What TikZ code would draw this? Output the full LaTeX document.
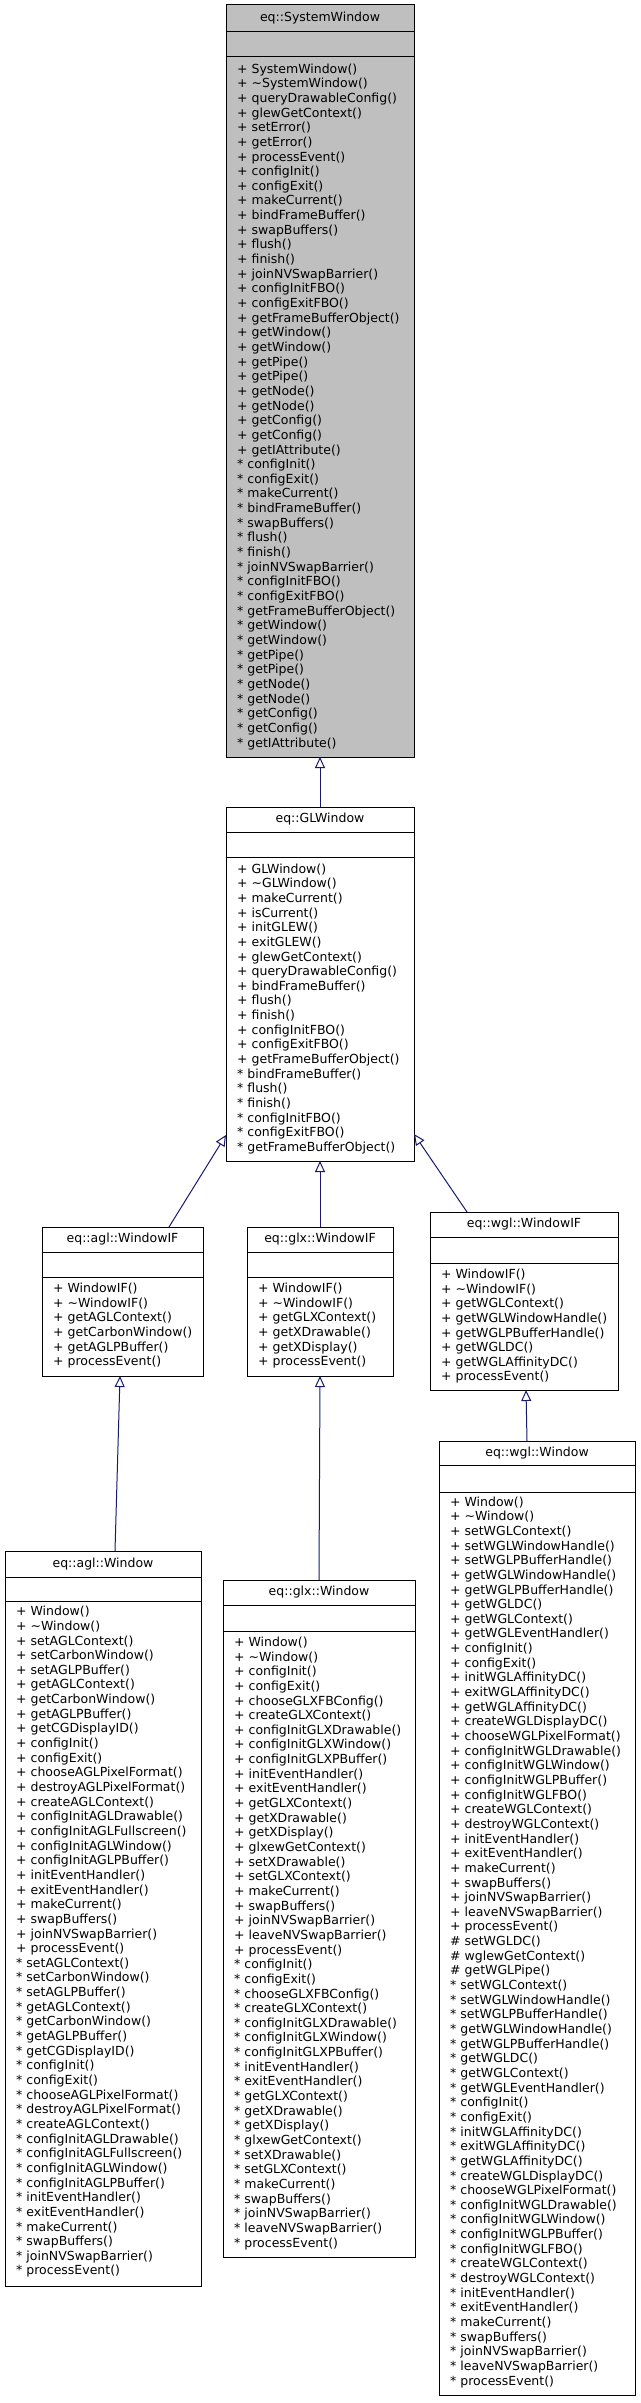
\documentclass[tikz,border=0pt]{standalone}
\usepackage{fontspec}
\setmainfont{DejaVu Sans}
\usetikzlibrary{arrows.meta}
\definecolor{navyedge}{HTML}{191970}
\definecolor{basegray}{HTML}{BFBFBF}
\newcommand\fs{\fontsize{12.5}{14.65}\selectfont}
\newcommand\tl{\textasciitilde}
\begin{document}
\begin{tikzpicture}[x=1pt,y=-1pt,
  cls/.style={draw=black, line width=1pt, fill=white, inner sep=0pt, outer sep=0pt, anchor=north west},
  ttl/.style={font=\fs, anchor=base, inner sep=0pt},
  mem/.style={font=\fs, align=left, anchor=north west, inner sep=0pt},
  sepline/.style={draw=black, line width=1pt},
  inh/.style={draw=navyedge, line width=1pt, -{Triangle[open, length=11pt, width=10pt]}}]
\fill[white] (0,0) rectangle (640,2403);
\useasboundingbox (0,0) rectangle (640,2403);

% ---------- eq::SystemWindow ----------
\node[cls, fill=basegray, minimum width=188pt, minimum height=752pt] (sw) at (226,5) {};
\draw[sepline] (226,31.5) -- (414,31.5);
\draw[sepline] (226,56.7) -- (414,56.7);
\node[ttl] (swt) at (320,21.2) {eq::SystemWindow};
\node[mem] (swm) at (237,63.4) {+ SystemWindow()\\+ \tl SystemWindow()\\+ queryDrawableConfig()\\+ glewGetContext()\\+ setError()\\+ getError()\\+ processEvent()\\+ configInit()\\+ configExit()\\+ makeCurrent()\\+ bindFrameBuffer()\\+ swapBuffers()\\+ flush()\\+ finish()\\+ joinNVSwapBarrier()\\+ configInitFBO()\\+ configExitFBO()\\+ getFrameBufferObject()\\+ getWindow()\\+ getWindow()\\+ getPipe()\\+ getPipe()\\+ getNode()\\+ getNode()\\+ getConfig()\\+ getConfig()\\+ getIAttribute()\\* configInit()\\* configExit()\\* makeCurrent()\\* bindFrameBuffer()\\* swapBuffers()\\* flush()\\* finish()\\* joinNVSwapBarrier()\\* configInitFBO()\\* configExitFBO()\\* getFrameBufferObject()\\* getWindow()\\* getWindow()\\* getPipe()\\* getPipe()\\* getNode()\\* getNode()\\* getConfig()\\* getConfig()\\* getIAttribute()};

% ---------- eq::GLWindow ----------
\node[cls, minimum width=188pt, minimum height=354pt] (glw) at (226,807) {};
\draw[sepline] (226,832) -- (414,832);
\draw[sepline] (226,857) -- (414,857);
\node[ttl] (glwt) at (320,822.5) {eq::GLWindow};
\node[mem] (glwm) at (237,863.4) {+ GLWindow()\\+ \tl GLWindow()\\+ makeCurrent()\\+ isCurrent()\\+ initGLEW()\\+ exitGLEW()\\+ glewGetContext()\\+ queryDrawableConfig()\\+ bindFrameBuffer()\\+ flush()\\+ finish()\\+ configInitFBO()\\+ configExitFBO()\\+ getFrameBufferObject()\\* bindFrameBuffer()\\* flush()\\* finish()\\* configInitFBO()\\* configExitFBO()\\* getFrameBufferObject()};

% ---------- eq::agl::WindowIF ----------
\node[cls, minimum width=161pt, minimum height=149pt] (aglif) at (42,1227) {};
\draw[sepline] (42,1252) -- (203,1252);
\draw[sepline] (42,1277) -- (203,1277);
\node[ttl] (aglift) at (122.5,1242.5) {eq::agl::WindowIF};
\node[mem] (aglifm) at (53,1282.7) {+ WindowIF()\\+ \tl WindowIF()\\+ getAGLContext()\\+ getCarbonWindow()\\+ getAGLPBuffer()\\+ processEvent()};

% ---------- eq::glx::WindowIF ----------
\node[cls, minimum width=146pt, minimum height=149pt] (glxif) at (247,1227) {};
\draw[sepline] (247,1252) -- (393,1252);
\draw[sepline] (247,1277) -- (393,1277);
\node[ttl] (glxift) at (320,1242.5) {eq::glx::WindowIF};
\node[mem] (glxifm) at (258,1282.7) {+ WindowIF()\\+ \tl WindowIF()\\+ getGLXContext()\\+ getXDrawable()\\+ getXDisplay()\\+ processEvent()};

% ---------- eq::wgl::WindowIF ----------
\node[cls, minimum width=188pt, minimum height=178pt] (wglif) at (430,1212) {};
\draw[sepline] (430,1237) -- (618,1237);
\draw[sepline] (430,1263) -- (618,1263);
\node[ttl] (wglift) at (524,1227.5) {eq::wgl::WindowIF};
\node[mem] (wglifm) at (441,1268.7) {+ WindowIF()\\+ \tl WindowIF()\\+ getWGLContext()\\+ getWGLWindowHandle()\\+ getWGLPBufferHandle()\\+ getWGLDC()\\+ getWGLAffinityDC()\\+ processEvent()};

% ---------- eq::agl::Window ----------
\node[cls, minimum width=196pt, minimum height=735pt] (aglw) at (5,1551) {};
\draw[sepline] (5,1577) -- (201,1577);
\draw[sepline] (5,1601) -- (201,1601);
\node[ttl] (aglwt) at (103,1567) {eq::agl::Window};
\node[mem] (aglwm) at (16,1606) {+ Window()\\+ \tl Window()\\+ setAGLContext()\\+ setCarbonWindow()\\+ setAGLPBuffer()\\+ getAGLContext()\\+ getCarbonWindow()\\+ getAGLPBuffer()\\+ getCGDisplayID()\\+ configInit()\\+ configExit()\\+ chooseAGLPixelFormat()\\+ destroyAGLPixelFormat()\\+ createAGLContext()\\+ configInitAGLDrawable()\\+ configInitAGLFullscreen()\\+ configInitAGLWindow()\\+ configInitAGLPBuffer()\\+ initEventHandler()\\+ exitEventHandler()\\+ makeCurrent()\\+ swapBuffers()\\+ joinNVSwapBarrier()\\+ processEvent()\\* setAGLContext()\\* setCarbonWindow()\\* setAGLPBuffer()\\* getAGLContext()\\* getCarbonWindow()\\* getAGLPBuffer()\\* getCGDisplayID()\\* configInit()\\* configExit()\\* chooseAGLPixelFormat()\\* destroyAGLPixelFormat()\\* createAGLContext()\\* configInitAGLDrawable()\\* configInitAGLFullscreen()\\* configInitAGLWindow()\\* configInitAGLPBuffer()\\* initEventHandler()\\* exitEventHandler()\\* makeCurrent()\\* swapBuffers()\\* joinNVSwapBarrier()\\* processEvent()};

% ---------- eq::glx::Window ----------
\node[cls, minimum width=192pt, minimum height=677pt] (glxw) at (223,1580) {};
\draw[sepline] (223,1605) -- (415,1605);
\draw[sepline] (223,1631) -- (415,1631);
\node[ttl] (glxwt) at (319,1595.5) {eq::glx::Window};
\node[mem] (glxwm) at (234,1636.7) {+ Window()\\+ \tl Window()\\+ configInit()\\+ configExit()\\+ chooseGLXFBConfig()\\+ createGLXContext()\\+ configInitGLXDrawable()\\+ configInitGLXWindow()\\+ configInitGLXPBuffer()\\+ initEventHandler()\\+ exitEventHandler()\\+ getGLXContext()\\+ getXDrawable()\\+ getXDisplay()\\+ glxewGetContext()\\+ setXDrawable()\\+ setGLXContext()\\+ makeCurrent()\\+ swapBuffers()\\+ joinNVSwapBarrier()\\+ leaveNVSwapBarrier()\\+ processEvent()\\* configInit()\\* configExit()\\* chooseGLXFBConfig()\\* createGLXContext()\\* configInitGLXDrawable()\\* configInitGLXWindow()\\* configInitGLXPBuffer()\\* initEventHandler()\\* exitEventHandler()\\* getGLXContext()\\* getXDrawable()\\* getXDisplay()\\* glxewGetContext()\\* setXDrawable()\\* setGLXContext()\\* makeCurrent()\\* swapBuffers()\\* joinNVSwapBarrier()\\* leaveNVSwapBarrier()\\* processEvent()};

% ---------- eq::wgl::Window ----------
\node[cls, minimum width=196pt, minimum height=954pt] (wglw) at (439,1441) {};
\draw[sepline] (439,1465) -- (635,1465);
\draw[sepline] (439,1492) -- (635,1492);
\node[ttl] (wglwt) at (537,1456) {eq::wgl::Window};
\node[mem] (wglwm) at (450,1496.4) {+ Window()\\+ \tl Window()\\+ setWGLContext()\\+ setWGLWindowHandle()\\+ setWGLPBufferHandle()\\+ getWGLWindowHandle()\\+ getWGLPBufferHandle()\\+ getWGLDC()\\+ getWGLContext()\\+ getWGLEventHandler()\\+ configInit()\\+ configExit()\\+ initWGLAffinityDC()\\+ exitWGLAffinityDC()\\+ getWGLAffinityDC()\\+ createWGLDisplayDC()\\+ chooseWGLPixelFormat()\\+ configInitWGLDrawable()\\+ configInitWGLWindow()\\+ configInitWGLPBuffer()\\+ configInitWGLFBO()\\+ createWGLContext()\\+ destroyWGLContext()\\+ initEventHandler()\\+ exitEventHandler()\\+ makeCurrent()\\+ swapBuffers()\\+ joinNVSwapBarrier()\\+ leaveNVSwapBarrier()\\+ processEvent()\\\# setWGLDC()\\\# wglewGetContext()\\\# getWGLPipe()\\* setWGLContext()\\* setWGLWindowHandle()\\* setWGLPBufferHandle()\\* getWGLWindowHandle()\\* getWGLPBufferHandle()\\* getWGLDC()\\* getWGLContext()\\* getWGLEventHandler()\\* configInit()\\* configExit()\\* initWGLAffinityDC()\\* exitWGLAffinityDC()\\* getWGLAffinityDC()\\* createWGLDisplayDC()\\* chooseWGLPixelFormat()\\* configInitWGLDrawable()\\* configInitWGLWindow()\\* configInitWGLPBuffer()\\* configInitWGLFBO()\\* createWGLContext()\\* destroyWGLContext()\\* initEventHandler()\\* exitEventHandler()\\* makeCurrent()\\* swapBuffers()\\* joinNVSwapBarrier()\\* leaveNVSwapBarrier()\\* processEvent()};

% ---------- connector end points ----------
\coordinate (aglifTop) at (169,1227);
\coordinate (glwLeft) at (226,1135);
\coordinate (wglifTop) at (467,1212);
\coordinate (glwRight) at (414,1134);
\coordinate (aglwTop) at (115,1551);
\coordinate (aglifBot) at (120,1376);
\coordinate (wglwTop) at (527,1441);
\coordinate (wglifBot) at (526,1390);

% ---------- inheritance ----------
\draw[inh] (glw.north) -- (sw.south);
\draw[inh] (aglifTop) -- (glwLeft);
\draw[inh] (glxif.north) -- (glw.south);
\draw[inh] (wglifTop) -- (glwRight);
\draw[inh] (aglwTop) -- (aglifBot);
\draw[inh] (glxw.north) -- (glxif.south);
\draw[inh] (wglwTop) -- (wglifBot);
\end{tikzpicture}
\end{document}
